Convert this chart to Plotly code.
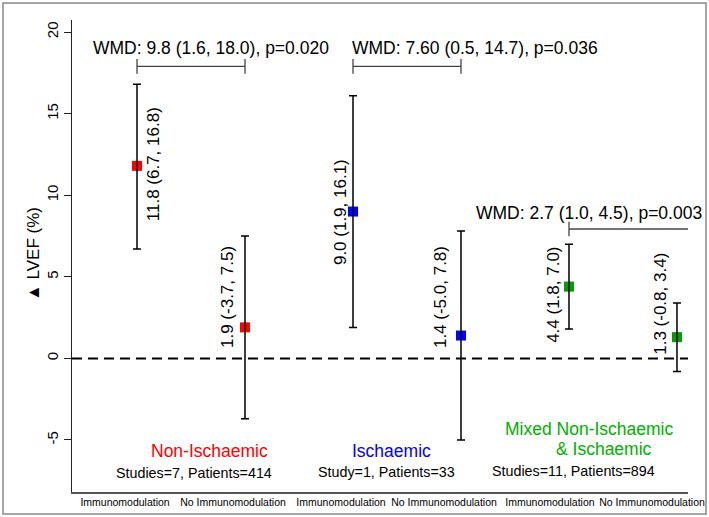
import plotly.graph_objects as go

# ---- data ----
positions = [1, 2, 3, 4, 5, 6]
tick_labels = ["Immunomodulation", "No Immunomodulation",
               "Immunomodulation", "No Immunomodulation",
               "Immunomodulation", "No Immunomodulation"]
y_ticks = [-5, 0, 5, 10, 15, 20]
means = [11.8, 1.9, 9.0, 1.4, 4.4, 1.3]
lower = [6.7, -3.7, 1.9, -5.0, 1.8, -0.8]
upper = [16.8, 7.5, 16.1, 7.8, 7.0, 3.4]
group_names = ["Non-Ischaemic", "Ischaemic", "Mixed Non-Ischaemic", "& Ischaemic"]
group_counts = ["Studies=7, Patients=414", "Study=1, Patients=33", "Studies=11, Patients=894"]
wmd_texts = ["WMD: 9.8 (1.6, 18.0), p=0.020",
             "WMD: 7.60 (0.5, 14.7), p=0.036",
             "WMD: 2.7 (1.0, 4.5), p=0.003"]

# ---- style ----
RED, BLUE, GREEN_M, GREEN_T = "#ff0000", "#0000ff", "#009c00", "#00b000"
marker_colors = [RED, RED, BLUE, BLUE, GREEN_M, GREEN_M]
FONT = "Arial, Liberation Sans, sans-serif"

W, H = 709, 517
ml, mr, mt, mb = 72, 21, 20, 25
pw, ph = W - ml - mr, H - mt - mb

fig = go.Figure()

# markers
fig.add_trace(go.Scatter(
    x=positions, y=means, mode="markers",
    marker=dict(symbol="square", size=10, color=marker_colors, line=dict(width=0)),
    hoverinfo="skip", showlegend=False))

# error bars on top
fig.add_trace(go.Scatter(
    x=positions, y=means, mode="markers",
    marker=dict(size=1, opacity=0),
    error_y=dict(type="data", symmetric=False,
                 array=[u - m for u, m in zip(upper, means)],
                 arrayminus=[m - l for m, l in zip(means, lower)],
                 color="black", thickness=1.5, width=4),
    hoverinfo="skip", showlegend=False))

# zero dashed line
fig.add_shape(type="line", xref="paper", yref="y", x0=0, x1=1, y0=0, y1=0,
              line=dict(color="black", width=2, dash="10px,6px"))

# value labels (rotated)
label_dx = [0.148, -0.167, -0.12, -0.194, -0.15, -0.16]
label_y = [11.9, 3.76, 8.97, 3.76, 3.88, 3.33]
for i, (x, m, lo, hi) in enumerate(zip(positions, means, lower, upper)):
    fig.add_annotation(x=x + label_dx[i], y=label_y[i], xref="x", yref="y",
                       text=f"{m:.1f} ({lo:.1f}, {hi:.1f})", showarrow=False,
                       textangle=-90, font=dict(family=FONT, size=17, color="black"),
                       xanchor="center", yanchor="middle")

# WMD brackets
brackets = [(1, 2, 17.9), (3, 4, 17.9), (5, 6.12, 7.93)]
bcol = "#444444"
for (xa, xb, yb) in brackets:
    fig.add_shape(type="line", x0=xa, x1=xb, y0=yb, y1=yb, line=dict(color=bcol, width=1.3))
    for xe in (xa, xb):
        fig.add_shape(type="line", x0=xe, x1=xe, y0=yb - 0.45, y1=yb + 0.45,
                      line=dict(color=bcol, width=1.3))
wmd_pos = [(0.57, 19.0), (2.97, 19.0), (4.12, 8.9)]
for t, (x, y) in zip(wmd_texts, wmd_pos):
    fig.add_annotation(x=x, y=y, text=t, showarrow=False, xanchor="left", yanchor="middle",
                       font=dict(family=FONT, size=17.5, color="black"))

# group labels
gname_pos = [(1.667, -5.67, RED), (3.361, -5.67, BLUE), (5.19, -4.33, GREEN_T), (5.32, -5.55, GREEN_T)]
for t, (x, y, c) in zip(group_names, gname_pos):
    fig.add_annotation(x=x, y=y, text=t, showarrow=False, xanchor="center", yanchor="middle",
                       font=dict(family=FONT, size=17.5, color=c))
gcount_pos = [(1.528, -7.02), (3.306, -6.95), (5.04, -6.90)]
for t, (x, y) in zip(group_counts, gcount_pos):
    fig.add_annotation(x=x, y=y, text=t, showarrow=False, xanchor="center", yanchor="middle",
                       font=dict(family=FONT, size=14.3, color="black"))

# y-axis title
fig.add_annotation(xref="paper", yref="paper", x=(33 - ml) / pw, y=(H - mb - 254) / ph,
                   text="▲ LVEF (%)", textangle=-90, showarrow=False,
                   xanchor="center", yanchor="middle",
                   font=dict(family=FONT, size=17, color="black"))

# outer frame
fig.add_shape(type="rect", xref="paper", yref="paper",
              x0=(3 - ml) / pw, x1=(706 - ml) / pw,
              y0=(H - mb - 514) / ph, y1=(H - mb - 3) / ph,
              line=dict(color="#888888", width=1.5))

tick_offsets = [-0.111, -0.111, -0.111, -0.157, -0.176, -0.231]
fig.update_layout(
    width=W, height=H, margin=dict(l=ml, r=mr, t=mt, b=mb, autoexpand=False),
    paper_bgcolor="white", plot_bgcolor="white",
    xaxis=dict(range=[0.398, 6.102], showgrid=False, zeroline=False, automargin=False,
               showline=True, linecolor="#555555", linewidth=1.5,
               tickvals=[p + o for p, o in zip(positions, tick_offsets)],
               ticktext=tick_labels, ticks="",
               tickfont=dict(family=FONT, size=10.5, color="black")),
    yaxis=dict(range=[-8.19, 20.74], showgrid=False, zeroline=False, automargin=False,
               showline=True, linecolor="#222222", linewidth=1.2,
               tickvals=y_ticks, ticktext=[str(v) for v in y_ticks],
               ticks="outside", ticklen=7,
               tickcolor="#222222", tickwidth=1.2, tickangle=-90,
               tickfont=dict(family=FONT, size=15, color="black")),
)

fig.write_html("out.html", config={"displayModeBar": False},
               post_script="document.body.style.margin='0px';document.body.style.overflow='hidden';")
